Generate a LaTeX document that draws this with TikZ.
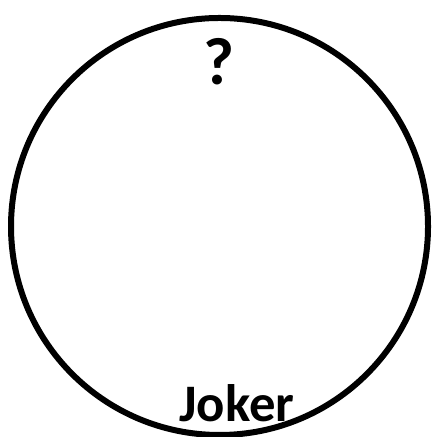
\documentclass[tikz,border=0pt]{standalone}
\usepackage{fontspec}
\setmainfont{Carlito}
\usepackage{tikz}

\begin{document}
\begin{tikzpicture}[font=\bfseries\fontsize{15}{18}\selectfont]
  \useasboundingbox (0,0) rectangle (4.32,4.37);
  \node[draw, circle, line width=0.06cm, minimum size=4.17cm, inner sep=0pt] (card) at (2.195,2.105) {};
  \node[inner sep=0pt, font=\bfseries\fontsize{19}{22}\selectfont] (mark) at (2.19,3.755) {?};
  \node[inner sep=0pt, anchor=base] (name) at (2.37,0.15) {Joker};
\end{tikzpicture}
\end{document}
